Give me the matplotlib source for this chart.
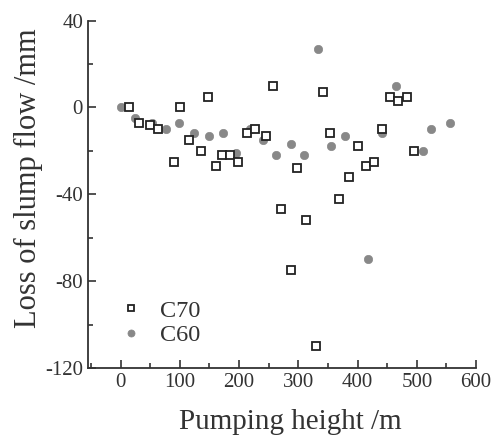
import numpy as np
import matplotlib
matplotlib.use('Agg')
import matplotlib.pyplot as plt
from matplotlib.ticker import MultipleLocator

plt.rcParams['font.family'] = ['Liberation Serif', 'DejaVu Serif']
plt.rcParams['axes.unicode_minus'] = False

# C70 series (open squares)
c70_x = [15, 31, 49, 63, 90, 101, 116, 135, 148, 161, 172, 184, 198, 213, 227,
         245, 257, 270, 287, 298, 313, 329, 342, 354, 368, 386, 401, 415, 428,
         441, 455, 469, 483, 496]
c70_y = [0, -7, -8, -10, -25, 0, -15, -20, 5, -27, -22, -22, -25, -12, -10,
         -13, 10, -47, -75, -28, -52, -110, 7, -12, -42, -32, -18, -27, -25,
         -10, 5, 3, 5, -20]

# C60 series (grey dots)
c60_x = [0, 25, 53, 76, 98, 124, 149, 173, 194, 218, 240, 263, 287, 310, 333,
         355, 378, 418, 442, 465, 510, 524, 556]
c60_y = [0, -5, -7, -10, -7, -12, -13, -12, -21, -10, -15, -22, -17, -22, 27,
         -18, -13, -70, -12, 10, -20, -10, -7]

fig = plt.figure(figsize=(4.97, 4.38), dpi=100)
ax = fig.add_axes([0.177, 0.160, 0.781, 0.793])

ax.plot(c70_x, c70_y, linestyle='none', marker='s', markersize=5.5,
        markerfacecolor='white', markeredgecolor='#222222',
        markeredgewidth=1.3, label='C70', zorder=3)
ax.plot(c60_x, c60_y, linestyle='none', marker='o', markersize=6,
        markerfacecolor='#888888', markeredgecolor='#888888',
        markeredgewidth=0.5, label='C60', zorder=2)

ax.set_xlim(-55, 600)
ax.set_ylim(-120, 40)
ax.xaxis.set_major_locator(MultipleLocator(100))
ax.xaxis.set_minor_locator(MultipleLocator(50))
ax.yaxis.set_major_locator(MultipleLocator(40))
ax.yaxis.set_minor_locator(MultipleLocator(20))

for side in ['top', 'right']:
    ax.spines[side].set_visible(False)
for side in ['left', 'bottom']:
    ax.spines[side].set_linewidth(1.3)
    ax.spines[side].set_color('#333333')

ax.tick_params(which='both', direction='in', color='#333333', width=1.2,
               labelsize=15, labelcolor='#333333')
ax.tick_params(which='major', length=6)
ax.tick_params(which='minor', length=3.5)

ax.set_xlabel('Pumping height /m', fontsize=21, color='#333333')
ax.set_ylabel('Loss of slump flow /mm', fontsize=22, color='#333333')
ax.xaxis.set_label_coords(0.521, -0.118)
ax.yaxis.set_label_coords(-0.117, 0.546)

ax.legend(loc='lower left', bbox_to_anchor=(0.023, 0.0), frameon=False,
          fontsize=17.5, handlelength=1.0, handletextpad=0.7,
          labelspacing=0.1, markerscale=0.85, labelcolor='#333333')

fig.savefig('out.png', dpi=100)
